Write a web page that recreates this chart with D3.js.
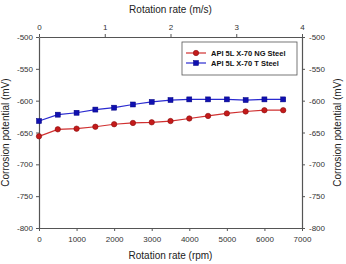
<!DOCTYPE html>
<html>
<head>
<meta charset="utf-8">
<script src="https://cdn.jsdelivr.net/npm/d3@7"></script>
<style>
  body { margin: 0; background: #fff; }
  svg { display: block; font-family: Arial, "Liberation Sans", sans-serif; }
</style>
</head>
<body>
<svg id="chart" width="346" height="264"></svg>
<script>
// data
var rpm = [0, 500, 1000, 1500, 2000, 2500, 3000, 3500, 4000, 4500, 5000, 5500, 6000, 6500];
var ngSteel = [-656, -645, -644, -641, -637, -635, -634, -632, -628, -624, -620, -617, -615, -615];
var tSteel = [-632, -622, -619, -614, -611, -606, -602, -599, -598, -598, -598, -599, -598, -598];
var seriesNames = ["API 5L X-70 NG Steel", "API 5L X-70 T Steel"];
var rpmTicks = [0, 1000, 2000, 3000, 4000, 5000, 6000, 7000];
var msTicks = [0, 1, 2, 3, 4];
var mvTicks = [-500, -550, -600, -650, -700, -750, -800];

var svg = d3.select("#chart")
var pLeft = 39, pRight = 302, pTop = 37, pBottom = 228

var x = d3.scaleLinear().domain([0, 7000]).range([pLeft, pRight])
var x2 = d3.scaleLinear().domain([0, 4]).range([pLeft, pRight])
var y = d3.scaleLinear().domain([-800, -500]).range([pBottom, pTop])

// plain hyphen for negatives, like the original
var fmt = function(d) { return String(d) }

function styleAxis(g) {
    g.select(".domain").attr("stroke", "#555").attr("stroke-width", 1.2)
    g.selectAll(".tick line").attr("stroke", "#555")
    g.selectAll(".tick text").attr("fill", "#333").attr("font-size", "8px")
}

svg.append("g").attr("transform", "translate(0," + pBottom + ")")
    .call(d3.axisBottom(x).tickValues(rpmTicks).tickFormat(fmt).tickSize(3).tickPadding(5).tickSizeOuter(0))
    .call(styleAxis)
svg.append("g").attr("transform", "translate(0," + pTop + ")")
    .call(d3.axisTop(x2).tickValues(msTicks).tickFormat(fmt).tickSize(3).tickPadding(4).tickSizeOuter(0))
    .call(styleAxis)
svg.append("g").attr("transform", "translate(" + pLeft + ",0)")
    .call(d3.axisLeft(y).tickValues(mvTicks).tickFormat(fmt).tickSize(3).tickPadding(3).tickSizeOuter(0))
    .call(styleAxis)
svg.append("g").attr("transform", "translate(" + pRight + ",0)")
    .call(d3.axisRight(y).tickValues(mvTicks).tickFormat(fmt).tickSize(3).tickPadding(4).tickSizeOuter(0))
    .call(styleAxis)

// axis titles
svg.append("text").attr("x", (pLeft + pRight) / 2).attr("y", 13)
    .attr("text-anchor", "middle").attr("font-size", "10px").attr("fill", "#222")
    .text("Rotation rate (m/s)")
svg.append("text").attr("x", (pLeft + pRight) / 2).attr("y", 259)
    .attr("text-anchor", "middle").attr("font-size", "10px").attr("fill", "#222")
    .text("Rotation rate (rpm)")
svg.append("text").attr("transform", "translate(9," + (pTop + pBottom) / 2 + ") rotate(-90)")
    .attr("text-anchor", "middle").attr("font-size", "10px").attr("fill", "#222")
    .text("Corrosion potential (mV)")
svg.append("text").attr("transform", "translate(341," + (pTop + pBottom) / 2 + ") rotate(-90)")
    .attr("text-anchor", "middle").attr("font-size", "10px").attr("fill", "#222")
    .text("Corrosion potential (mV)")

var line = d3.line()
    .x(function(d, i) { return x(rpm[i]) })
    .y(function(d) { return y(d) })

// NG steel - red circles
svg.append("path").attr("d", line(ngSteel))
    .attr("fill", "none").attr("stroke", "#d03030").attr("stroke-width", 1.2)
svg.selectAll(".ng").data(ngSteel).enter().append("circle")
    .attr("cx", function(d, i) { return x(rpm[i]) })
    .attr("cy", function(d) { return y(d) })
    .attr("r", 2.7)
    .attr("fill", "#c41a1a").attr("stroke", "#8a0f0f").attr("stroke-width", 0.6)

// T steel - blue squares
svg.append("path").attr("d", line(tSteel))
    .attr("fill", "none").attr("stroke", "#2a2ad0").attr("stroke-width", 1.2)
svg.selectAll(".t").data(tSteel).enter().append("rect")
    .attr("x", function(d, i) { return x(rpm[i]) - 2.5 })
    .attr("y", function(d) { return y(d) - 2.5 })
    .attr("width", 5).attr("height", 5)
    .attr("fill", "#1010b0").attr("stroke", "#000080").attr("stroke-width", 0.5)

// legend
var lg = svg.append("g")
lg.append("rect").attr("x", 182).attr("y", 42).attr("width", 115).attr("height", 33)
    .attr("fill", "#fff").attr("stroke", "#555").attr("stroke-width", 0.8)
var colors = ["#d03030", "#2a2ad0"]
seriesNames.forEach(function(name, i) {
    var ly = 53 + i * 10
    lg.append("line").attr("x1", 186).attr("x2", 206).attr("y1", ly).attr("y2", ly)
        .attr("stroke", colors[i]).attr("stroke-width", 1.2)
    if (i == 0) {
        lg.append("circle").attr("cx", 196).attr("cy", ly).attr("r", 2.7)
            .attr("fill", "#c41a1a").attr("stroke", "#8a0f0f").attr("stroke-width", 0.6)
    } else {
        lg.append("rect").attr("x", 193.5).attr("y", ly - 2.5).attr("width", 5).attr("height", 5)
            .attr("fill", "#1010b0").attr("stroke", "#000080").attr("stroke-width", 0.5)
    }
    lg.append("text").attr("x", 211).attr("y", ly + 2.7)
        .attr("font-size", "7.5px").attr("font-weight", "bold").attr("fill", "#111")
        .text(name)
})
</script>
</body>
</html>
